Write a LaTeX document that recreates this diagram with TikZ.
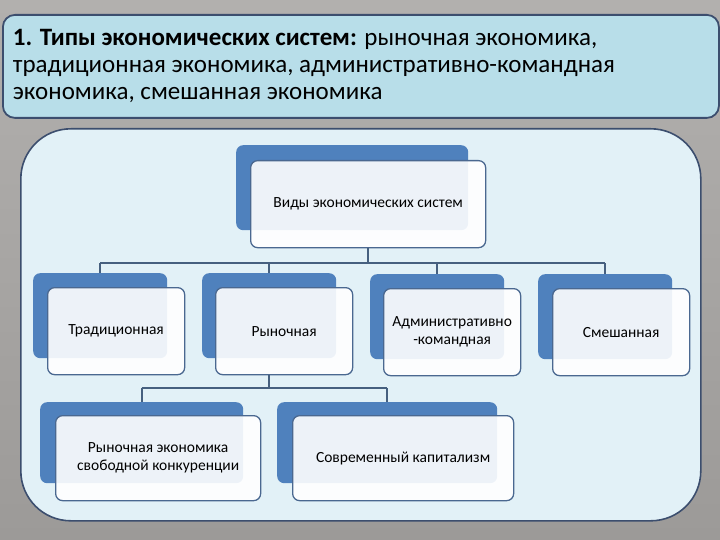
\documentclass[tikz,border=0pt]{standalone}
\usepackage{fontspec}
\setmainfont{Carlito}
\definecolor{bgtop}{HTML}{B2B0AE}
\definecolor{bgbot}{HTML}{9C9A98}
\definecolor{titlefill}{HTML}{B8DEE9}
\definecolor{frameline}{HTML}{3C4E6E}
\definecolor{panelfill}{HTML}{E2F1F7}
\definecolor{cardblue}{HTML}{4F81BD}
\definecolor{cardline}{HTML}{4A6890}
\definecolor{connline}{HTML}{46607F}
\tikzset{
  titlebox/.style={fill=titlefill, draw=frameline, line width=1.8pt, rounded corners=12pt, anchor=north west, inner sep=10pt, align=flush left, text width=696pt, font=\fontsize{25}{27}\selectfont},
  panelbox/.style={fill=panelfill, draw=frameline, line width=1.6pt, rounded corners=50pt, anchor=north west, inner sep=0pt},
  backcard/.style={fill=cardblue, rounded corners=7pt, anchor=north west, inner sep=0pt},
  frontcard/.style={fill=white, fill opacity=0.9, text opacity=1, draw=cardline, line width=1.3pt, rounded corners=7pt, anchor=north west, inner sep=2pt, align=center, font=\fontsize{15.5}{18}\selectfont},
  conn/.style={draw=connline, line width=1.7pt}
}
\begin{document}
\begin{tikzpicture}[x=1pt,y=-1pt]
\useasboundingbox (0,0) rectangle (720,540);
\shade[top color=bgtop, bottom color=bgbot] (0,0) rectangle (720,540);
\node[titlebox, minimum width=716pt, minimum height=103pt] (title) at (2,14)
  {\textbf{1. Типы экономических систем:} рыночная экономика,\\ традиционная экономика, административно-командная\\ экономика, смешанная экономика};
\node[panelbox, minimum width=680pt, minimum height=392pt] (panel) at (20,128) {};
% cards: back
\node[backcard, minimum width=232pt, minimum height=85pt] (topb) at (236,145) {};
\node[backcard, minimum width=134pt, minimum height=85pt] (n1b) at (33,273) {};
\node[backcard, minimum width=134pt, minimum height=85pt] (n2b) at (202,273) {};
\node[backcard, minimum width=134pt, minimum height=85pt] (n3b) at (370,274) {};
\node[backcard, minimum width=134pt, minimum height=85pt] (n4b) at (538,274) {};
\node[backcard, minimum width=203pt, minimum height=81pt] (m1b) at (40,402) {};
\node[backcard, minimum width=220pt, minimum height=81pt] (m2b) at (277,402) {};
% cards: front
\node[frontcard, minimum width=235pt, minimum height=87pt] (top) at (250,160) {Виды экономических систем};
\node[frontcard, minimum width=137pt, minimum height=87pt] (n1) at (47,287) {Традиционная};
\node[frontcard, minimum width=137pt, minimum height=87pt] (n2) at (215,287) {Рыночная};
\node[frontcard, minimum width=137pt, minimum height=87pt] (n3) at (383,288) {Административно\\-командная};
\node[frontcard, minimum width=137pt, minimum height=87pt] (n4) at (552,288) {Смешанная};
\node[frontcard, minimum width=205pt, minimum height=85pt] (m1) at (55,415) {Рыночная экономика\\свободной конкуренции};
\node[frontcard, minimum width=221pt, minimum height=85pt] (m2) at (292,415) {Современный капитализм};
% connectors
\draw[conn] (top.south) -- ++(0,15) coordinate (bus1);
\draw[conn] (n1b.north |- bus1) -- (n4b.north |- bus1);
\foreach \n in {n1b,n2b,n3b,n4b} { \draw[conn] (\n.north |- bus1) -- (\n.north); }
\draw[conn] (n2b.north |- n2.south) -- ++(0,13) coordinate (bus2);
\draw[conn] (m1b.north |- bus2) -- (m2b.north |- bus2);
\foreach \n in {m1b,m2b} { \draw[conn] (\n.north |- bus2) -- (\n.north); }
\end{tikzpicture}
\end{document}
